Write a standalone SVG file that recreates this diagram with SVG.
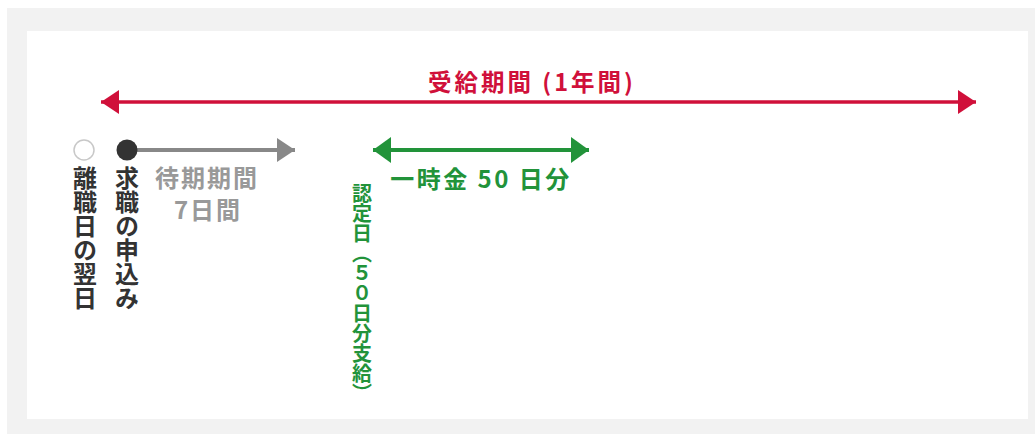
<svg xmlns="http://www.w3.org/2000/svg" width="1035" height="434" viewBox="0 0 1035 434">
<style>
.t{font-family:"Noto Sans CJK JP","Noto Sans",sans-serif;font-weight:bold}
.v{writing-mode:vertical-rl;text-orientation:upright}
.red{fill:#d0103a}
.gry{fill:#999999}
.grn{fill:#22933a}
.dk{fill:#333333}
</style>
<defs>
<marker id="mr" viewBox="0 0 18 24" refX="18" refY="12" markerWidth="18" markerHeight="24" markerUnits="userSpaceOnUse" orient="auto-start-reverse"><path d="M0 0L18 12L0 24Z" fill="#d0103a"/></marker>
<marker id="mg" viewBox="0 0 18 26" refX="18" refY="13" markerWidth="18" markerHeight="26" markerUnits="userSpaceOnUse" orient="auto-start-reverse"><path d="M0 0L18 13L0 26Z" fill="#22933a"/></marker>
<marker id="mgr" viewBox="0 0 18 24" refX="18" refY="12" markerWidth="18" markerHeight="24" markerUnits="userSpaceOnUse" orient="auto"><path d="M0 0L18 12L0 24Z" fill="#888888"/></marker>
</defs>
<rect x="7" y="8" width="1028" height="426" fill="#f2f2f2"/>
<rect x="27" y="31" width="1001" height="388" fill="#ffffff"/>
<g id="connectors">
<line x1="101" y1="102" x2="976" y2="102" stroke="#d0103a" stroke-width="3.5" marker-start="url(#mr)" marker-end="url(#mr)"/>
<line x1="137" y1="150" x2="295" y2="150" stroke="#888888" stroke-width="4" marker-end="url(#mgr)"/>
<line x1="373" y1="150" x2="589" y2="150" stroke="#22933a" stroke-width="4" marker-start="url(#mg)" marker-end="url(#mg)"/>
</g>
<g id="title"><text class="t red" x="532" y="91" font-size="23.5" text-anchor="middle" letter-spacing="3">受給期間 (1年間)</text></g>
<g id="rishoku">
<circle cx="84" cy="150" r="10" fill="#ffffff" stroke="#c8c8c8" stroke-width="1.5"/>
<text class="t dk v" x="85" y="166" font-size="24">離職日の翌日</text>
</g>
<g id="kyushoku">
<circle cx="127" cy="150" r="10.5" fill="#333333"/>
<text class="t dk v" x="127" y="166" font-size="24">求職の申込み</text>
</g>
<g id="taiki">
<text class="t gry" x="207" y="187" font-size="24" text-anchor="middle" letter-spacing="2">待期期間</text>
<text class="t gry" x="208" y="219" font-size="24" text-anchor="middle" letter-spacing="2">7日間</text>
</g>
<g id="ichijikin"><text class="t grn" x="481" y="188" font-size="24" text-anchor="middle" letter-spacing="2.5">一時金 50 日分</text></g>
<g id="nintei"><text class="t grn v" x="362" y="183" font-size="20">認定日（５０日分支給）</text></g>
</svg>
